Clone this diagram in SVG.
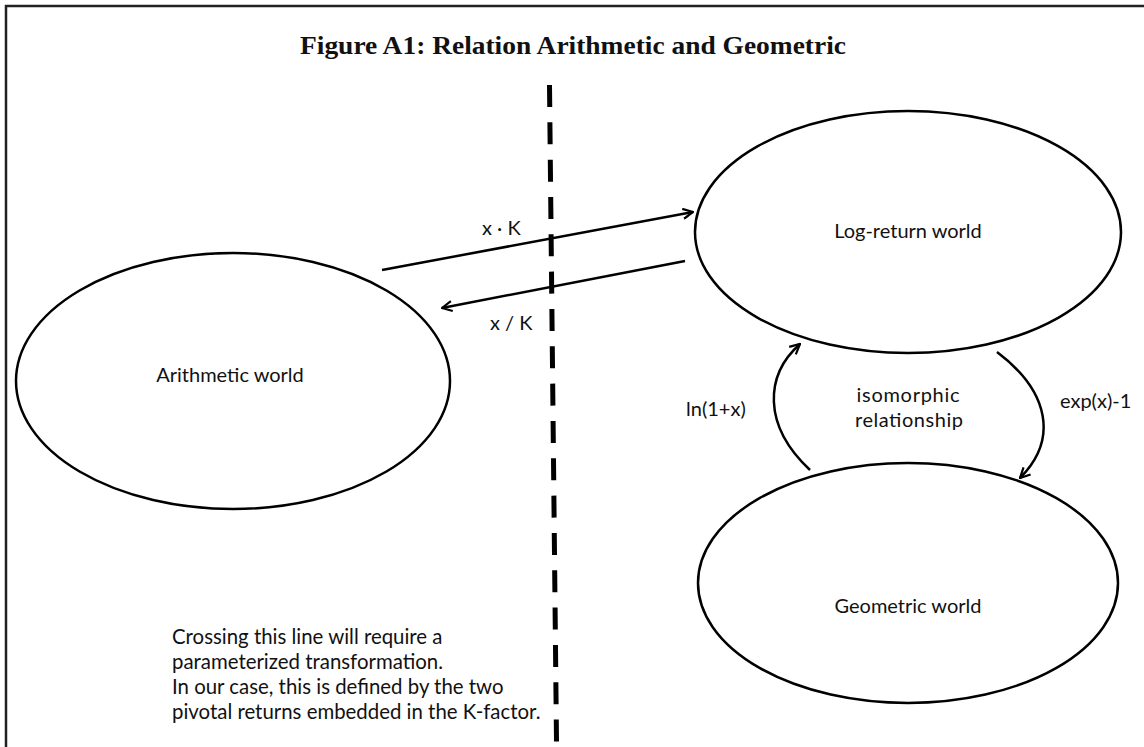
<svg xmlns="http://www.w3.org/2000/svg" width="1144" height="747" viewBox="0 0 1144 747">
<defs>
<style>
.frame{stroke:#222;stroke-width:2.5;fill:none}
.node{fill:#fff;stroke:#000;stroke-width:2.5}
.lbl{font-family:Lato,"Open Sans","Liberation Sans",sans-serif;font-size:20px;fill:#111}
.note{font-family:Lato,"Open Sans","Liberation Sans",sans-serif;font-size:20.4px;fill:#111}
.mid{text-anchor:middle}
.title{font-family:"Liberation Serif","Times New Roman",serif;font-weight:bold;font-size:26px;fill:#111;text-anchor:middle}
.conn{stroke:#000;stroke-width:2.5;fill:none}
.divider{stroke:#000;stroke-width:5;stroke-dasharray:22 15.33;fill:none}
</style>
<marker id="arr" viewBox="0 0 12 12" refX="11" refY="6" markerWidth="12" markerHeight="12" markerUnits="userSpaceOnUse" orient="auto">
<path d="M1,1 L11,6 L1,11" fill="none" stroke="#000" stroke-width="2.2"/>
</marker>
</defs>
<rect width="1144" height="747" fill="#fff"/>
<path class="frame" d="M6,747 L6,6 L1144,6"/>
<text class="title" x="573" y="54" textLength="546" lengthAdjust="spacingAndGlyphs">Figure A1: Relation Arithmetic and Geometric</text>
<g id="divider">
<line class="divider" x1="549.5" y1="85" x2="556.5" y2="742"/>
</g>
<g id="arithmetic">
<ellipse class="node" cx="233" cy="381" rx="217" ry="128"/>
<text class="lbl mid" x="230" y="382">Arithmetic world</text>
</g>
<g id="logreturn">
<ellipse class="node" cx="908" cy="232" rx="213" ry="121"/>
<text class="lbl mid" x="908" y="238">Log-return world</text>
</g>
<g id="geometric">
<ellipse class="node" cx="908" cy="583" rx="210" ry="120"/>
<text class="lbl mid" x="908" y="613">Geometric world</text>
</g>
<g id="connectors">
<line class="conn" x1="382" y1="270" x2="693" y2="212" marker-end="url(#arr)"/>
<line class="conn" x1="685" y1="261" x2="442" y2="308" marker-end="url(#arr)"/>
<path class="conn" d="M810,470 C762,425 765,375 800,344" marker-end="url(#arr)"/>
<path class="conn" d="M997,352 C1050,392 1058,440 1020,478" marker-end="url(#arr)"/>
</g>
<g id="labels">
<text class="lbl" x="482" y="235">x · K</text>
<text class="lbl" x="490" y="330">x / K</text>
<text class="lbl" x="686" y="416">ln(1+x)</text>
<text class="lbl" x="1060" y="408">exp(x)-1</text>
<text class="lbl mid" x="908" y="402" textLength="103" lengthAdjust="spacing">isomorphic</text>
<text class="lbl mid" x="909" y="427" textLength="108" lengthAdjust="spacing">relationship</text>
<text class="note" x="172" y="644">Crossing this line will require a</text>
<text class="note" x="172" y="669">parameterized transformation.</text>
<text class="note" x="172" y="694">In our case, this is defined by the two</text>
<text class="note" x="172" y="719">pivotal returns embedded in the K-factor.</text>
</g>
</svg>
